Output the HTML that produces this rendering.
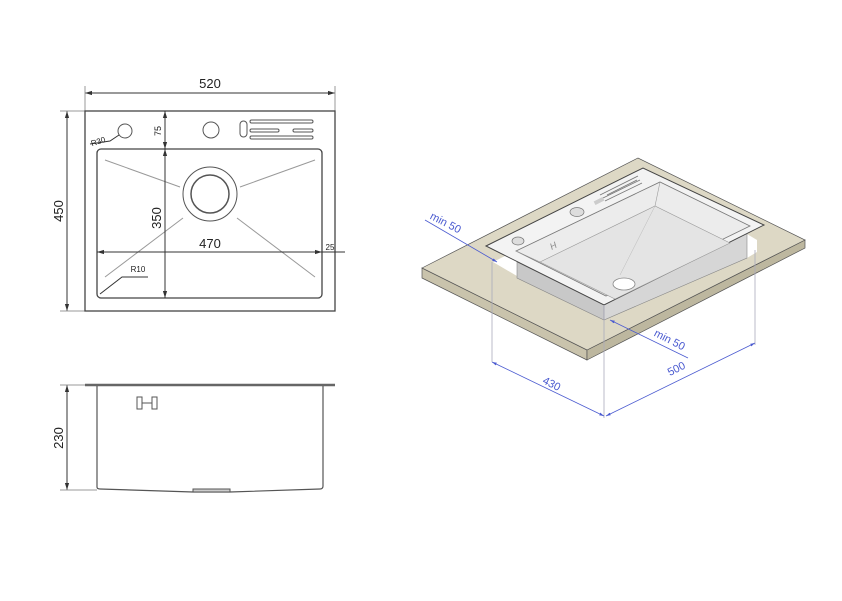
<!DOCTYPE html>
<html><head><style>body{margin:0;background:#fff}svg{display:block}</style></head><body>
<svg width="842" height="601" viewBox="0 0 842 601" xmlns="http://www.w3.org/2000/svg" font-family="Liberation Sans, sans-serif">
<defs>
<marker id="a" viewBox="0 0 10 10" refX="10" refY="5" markerWidth="7" markerHeight="7" orient="auto-start-reverse"><path d="M0,2 L10,5 L0,8z" fill="#333"/></marker>
<marker id="b" viewBox="0 0 10 10" refX="10" refY="5" markerWidth="6" markerHeight="6" orient="auto-start-reverse"><path d="M0,2 L10,5 L0,8z" fill="#4a5ad0"/></marker>
</defs>
<!-- TOP VIEW -->
<g stroke="#555" fill="none">
<line x1="85" y1="93" x2="335" y2="93" stroke="#333" marker-start="url(#a)" marker-end="url(#a)"/>
<line x1="85" y1="86" x2="85" y2="111" stroke="#999"/><line x1="335" y1="86" x2="335" y2="111" stroke="#999"/>
<line x1="67" y1="111" x2="67" y2="311" stroke="#333" marker-start="url(#a)" marker-end="url(#a)"/>
<line x1="60" y1="111" x2="85" y2="111" stroke="#999"/><line x1="60" y1="311" x2="85" y2="311" stroke="#999"/>
<rect x="85" y="111" width="250" height="200" stroke="#444" stroke-width="1.3"/>
<rect x="97" y="149" width="225" height="149" rx="4" stroke="#444" stroke-width="1.3"/>
<circle cx="125" cy="131" r="7"/><circle cx="211" cy="130" r="8"/>
<rect x="240" y="121" width="7" height="16" rx="3.5"/>
<rect x="250" y="120" width="63" height="3" rx="1.5"/><rect x="250" y="129" width="29" height="3" rx="1.5"/><rect x="293" y="129" width="20" height="3" rx="1.5"/><rect x="250" y="136" width="63" height="3" rx="1.5"/>
<circle cx="210" cy="194" r="27"/><circle cx="210" cy="194" r="19" stroke-width="1.5"/>
<g stroke="#999"><line x1="105" y1="160" x2="180" y2="187"/><line x1="240" y1="187" x2="315" y2="160"/><line x1="183" y1="218" x2="105" y2="277"/><line x1="237" y1="218" x2="315" y2="277"/></g>
<line x1="165" y1="111" x2="165" y2="149" stroke="#333" marker-start="url(#a)" marker-end="url(#a)"/>
<line x1="165" y1="149" x2="165" y2="298" stroke="#333" marker-start="url(#a)" marker-end="url(#a)"/>
<line x1="97" y1="252" x2="322" y2="252" stroke="#333" marker-start="url(#a)" marker-end="url(#a)"/>
<line x1="322" y1="252" x2="345" y2="252" stroke="#333"/>
<polyline points="90,144 110,141 119,135" stroke="#333"/>
<polyline points="100,294 122,277 148,277" stroke="#333"/>
</g>
<g fill="#222">
<text x="210" y="88" font-size="13" text-anchor="middle">520</text>
<text transform="translate(63,211) rotate(-90)" font-size="13" text-anchor="middle">450</text>
<text transform="translate(161,131) rotate(-90)" font-size="9" text-anchor="middle">75</text>
<text transform="translate(161,218) rotate(-90)" font-size="13" text-anchor="middle">350</text>
<text x="210" y="248" font-size="13" text-anchor="middle">470</text>
<text x="330" y="250" font-size="8" text-anchor="middle">25</text>
<text transform="translate(99,144) rotate(-18)" font-size="8" text-anchor="middle">R30</text>
<text x="138" y="272" font-size="8" text-anchor="middle">R10</text>
</g>
<!-- SIDE VIEW -->
<g stroke="#555" fill="none">
<line x1="85" y1="385" x2="335" y2="385" stroke="#666" stroke-width="2.5"/>
<path d="M97,386 V487 Q97,489 100,489 L193,492 H230 L320,489 Q323,489 323,486 V386" stroke-width="1.2"/>
<rect x="193" y="489" width="37" height="3" fill="#ccc"/>
<rect x="137" y="397" width="5" height="12"/><rect x="152" y="397" width="5" height="12"/><line x1="142" y1="403" x2="152" y2="403"/>
<line x1="67" y1="385" x2="67" y2="490" stroke="#333" marker-start="url(#a)" marker-end="url(#a)"/>
<line x1="60" y1="385" x2="85" y2="385" stroke="#999"/><line x1="60" y1="490" x2="97" y2="490" stroke="#999"/>
</g>
<text transform="translate(63,438) rotate(-90)" font-size="13" text-anchor="middle" fill="#222">230</text>
<!-- ISO VIEW -->
<polygon points="422,278 587,360 587,350 422,268" fill="#c9c3ac" stroke="#555" stroke-width="0.7"/>
<polygon points="587,360 805,248 805,240 587,350" fill="#bdb79f" stroke="#555" stroke-width="0.7"/>
<polygon points="422,268 638,158 805,240 587,350" fill="#ddd8c5" stroke="#555" stroke-width="0.7"/>
<polygon points="493,262 517,250 517,276" fill="#fff"/>
<polygon points="747,234 757,240 757,252 747,258" fill="#fff"/>
<polygon points="517,262 604,305 604,320 517,278" fill="#c8c8c8" stroke="#888" stroke-width="0.6"/>
<polygon points="604,305 747,233 747,258 604,320" fill="#d6d6d6" stroke="#888" stroke-width="0.6"/>
<polygon points="486,246 643,168 764,225 604,305" fill="#f3f3f3" stroke="#444" stroke-width="1"/>
<polygon points="516,251 660,182 750,226 606,296" fill="#ececec" stroke="#777" stroke-width="0.8"/>
<polygon points="540,262 655,206 730,243 615,299" fill="#e4e4e4" stroke="#999" stroke-width="0.6"/>
<line x1="660" y1="182" x2="655" y2="206" stroke="#999" stroke-width="0.6"/>
<line x1="516" y1="251" x2="540" y2="262" stroke="#999" stroke-width="0.6"/>
<line x1="655" y1="206" x2="620" y2="275" stroke="#bbb" stroke-width="0.5"/>
<ellipse cx="624" cy="284" rx="11" ry="6" fill="#fff" stroke="#888" stroke-width="0.8"/>
<ellipse cx="518" cy="241" rx="6" ry="4" fill="#ddd" stroke="#777" stroke-width="0.7"/>
<ellipse cx="577" cy="212" rx="7" ry="4.5" fill="#ddd" stroke="#777" stroke-width="0.7"/>
<g stroke="#777" stroke-width="0.8"><line x1="603" y1="198" x2="640" y2="180"/><line x1="605" y1="201" x2="642" y2="183"/><line x1="607" y1="195" x2="637" y2="180"/><line x1="600" y1="195" x2="638" y2="176"/></g>
<rect x="594" y="199" width="10" height="4" fill="#ccc" transform="rotate(-27 599 201)"/>
<text x="550" y="249" font-size="9" fill="#888" font-style="italic" transform="rotate(-27 553 246)">H</text>
<!-- blue dims -->
<g stroke="#4a5ad0" stroke-width="0.8" fill="none">
<line x1="425" y1="220" x2="497" y2="262" marker-end="url(#b)"/>
<line x1="492" y1="262" x2="492" y2="362" stroke="#aab"/>
<line x1="604" y1="305" x2="604" y2="418" stroke="#aab"/>
<line x1="755" y1="250" x2="755" y2="345" stroke="#aab"/>
<line x1="492" y1="362" x2="604" y2="416" marker-start="url(#b)" marker-end="url(#b)"/>
<line x1="606" y1="416" x2="755" y2="343" marker-start="url(#b)" marker-end="url(#b)"/>
<line x1="688" y1="358" x2="610" y2="320" marker-end="url(#b)"/>
</g>
<g fill="#4a5ad0" font-size="11">
<text transform="translate(444,226) rotate(27)" text-anchor="middle">min 50</text>
<text transform="translate(550,387) rotate(27)" text-anchor="middle">430</text>
<text transform="translate(678,372) rotate(-27)" text-anchor="middle">500</text>
<text transform="translate(668,343) rotate(27)" text-anchor="middle">min 50</text>
</g>
</svg>
</body></html>
